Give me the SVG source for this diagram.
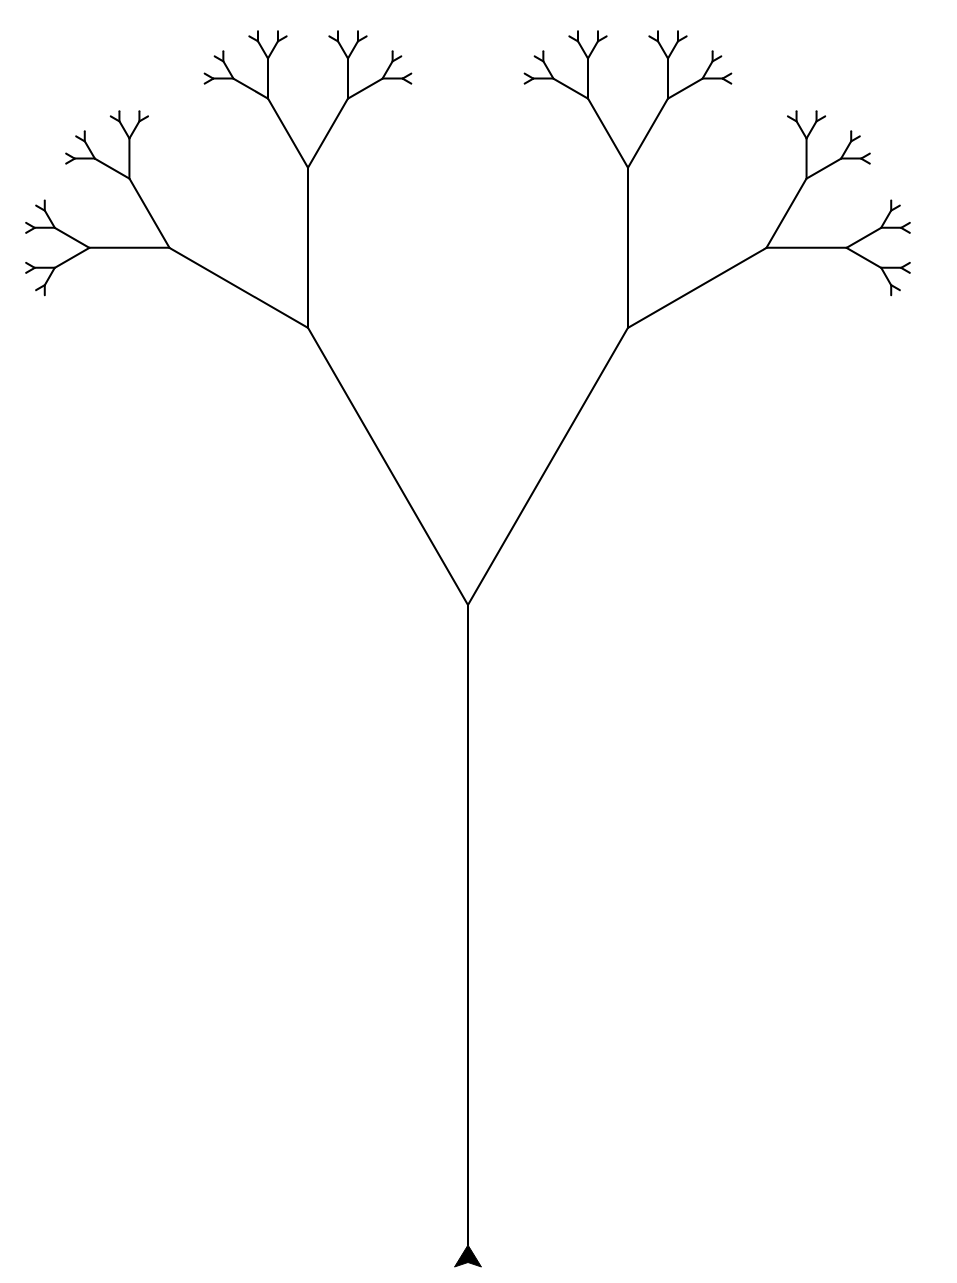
<svg xmlns="http://www.w3.org/2000/svg" xmlns:xlink="http://www.w3.org/1999/xlink" width="957" height="1283" viewBox="0 0 957 1283">
<style>
line{stroke:#000;stroke-width:2;stroke-linecap:round}
</style>
<defs>
<g id="L6"><line x1="0" y1="0" x2="0" y2="-10"/></g>
<g id="L5"><line x1="0" y1="0" x2="0" y2="-20"/><use href="#L6" xlink:href="#L6" transform="translate(0,-20) rotate(-30)"/><use href="#L6" xlink:href="#L6" transform="translate(0,-20) rotate(30)"/></g>
<g id="L4"><line x1="0" y1="0" x2="0" y2="-40"/><use href="#L5" xlink:href="#L5" transform="translate(0,-40) rotate(-30)"/><use href="#L5" xlink:href="#L5" transform="translate(0,-40) rotate(30)"/></g>
<g id="L3"><line x1="0" y1="0" x2="0" y2="-80"/><use href="#L4" xlink:href="#L4" transform="translate(0,-80) rotate(-30)"/><use href="#L4" xlink:href="#L4" transform="translate(0,-80) rotate(30)"/></g>
<g id="L2"><line x1="0" y1="0" x2="0" y2="-160"/><use href="#L3" xlink:href="#L3" transform="translate(0,-160) rotate(-30)"/><use href="#L3" xlink:href="#L3" transform="translate(0,-160) rotate(30)"/></g>
<g id="L1"><line x1="0" y1="0" x2="0" y2="-320"/><use href="#L2" xlink:href="#L2" transform="translate(0,-320) rotate(-30)"/><use href="#L2" xlink:href="#L2" transform="translate(0,-320) rotate(30)"/></g>
</defs>
<rect width="957" height="1283" fill="#fff"/>
<g id="tree" transform="translate(468,1245)">
<line x1="0" y1="0" x2="0" y2="-640"/>
<use href="#L1" xlink:href="#L1" transform="translate(0,-640) rotate(-30)"/>
<use href="#L1" xlink:href="#L1" transform="translate(0,-640) rotate(30)"/>
</g>
<g id="turtle">
<polygon points="468,1245 454.5,1267 468,1262.5 481.5,1267" fill="#000" stroke="#000" stroke-width="1"/>
</g>
</svg>
